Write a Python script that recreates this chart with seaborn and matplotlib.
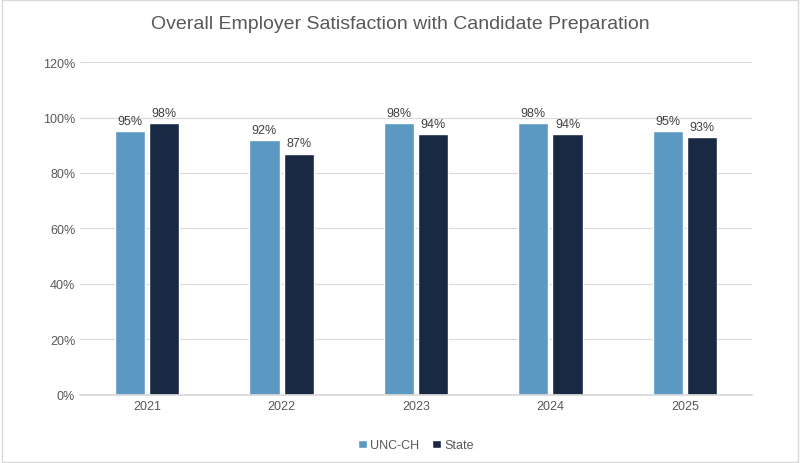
import matplotlib
matplotlib.use("Agg")
import matplotlib.pyplot as plt
import seaborn as sns
import pandas as pd
from matplotlib.patches import Rectangle

years = ["2021", "2022", "2023", "2024", "2025"]
unc = [95, 92, 98, 98, 95]
state = [98, 87, 94, 94, 93]
series = ["UNC-CH", "State"]
colors = ["#4A9CD3", "#12284A"]

df = pd.DataFrame({
    "Year": years * 2,
    "Value": unc + state,
    "Series": [series[0]] * len(years) + [series[1]] * len(years),
})

sns.set_theme(style="white")
plt.rcParams['font.family'] = ['Liberation Sans', 'DejaVu Sans']

fig = plt.figure(figsize=(8, 4.64), dpi=100)
ax = fig.add_axes([0.1, 0.147, 0.84, 0.717])
sns.barplot(data=df, x="Year", y="Value", hue="Series", palette=colors,
            width=0.51, gap=0.12, ax=ax, legend=True)

for c in ax.containers:
    ax.bar_label(c, labels=[f"{v:.0f}%" for v in c.datavalues], padding=3,
                 fontsize=9, color="#404040")

ax.set_ylim(0, 120)
ax.set_xlim(-0.5, 4.5)
ax.set_yticks(range(0, 121, 20))
ax.set_yticklabels([f"{v}%" for v in range(0, 121, 20)])
ax.yaxis.grid(True, color="#D9D9D9", linewidth=0.8)
ax.set_axisbelow(True)
for s in ["top", "right", "left"]:
    ax.spines[s].set_visible(False)
ax.spines["bottom"].set_color("#D9D9D9")
ax.tick_params(axis="both", labelsize=9, colors="#595959", length=0)
ax.set_xlabel("")
ax.set_ylabel("")

ax.legend(loc="upper center", bbox_to_anchor=(0.5, -0.1), ncol=2, frameon=False,
          fontsize=9, handlelength=0.7, handleheight=0.7, columnspacing=1.0,
          labelcolor="#595959", handletextpad=0.3)

fig.suptitle("Overall Employer Satisfaction with Candidate Preparation",
             y=0.965, fontsize=14, color="#595959")
fig.patches.append(Rectangle((0.002, 0.003), 0.996, 0.994, transform=fig.transFigure,
                             fill=False, edgecolor="#D9D9D9", linewidth=1))
fig.savefig("out.png", dpi=100)
